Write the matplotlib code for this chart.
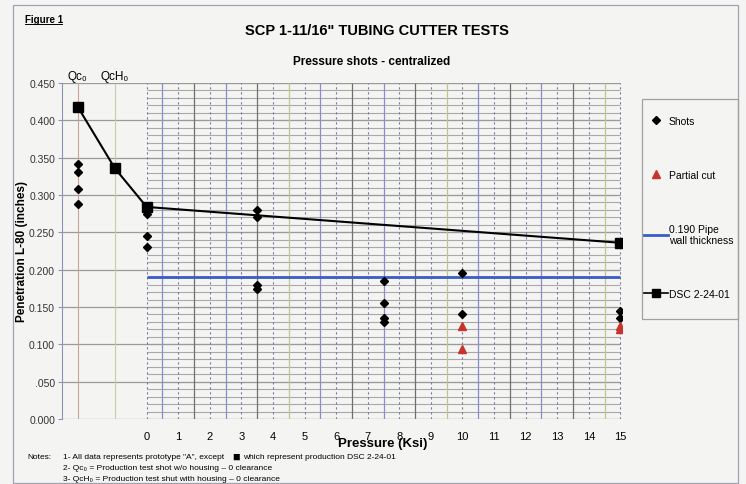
import numpy as np
import matplotlib.pyplot as plt
from matplotlib.lines import Line2D
from matplotlib.patches import Rectangle

plt.rcParams['font.family'] = ['Liberation Sans', 'DejaVu Sans']

# ---- data ----
pressure_ticks = list(range(16))
y_ticks = [0.0, 0.05, 0.10, 0.15, 0.20, 0.25, 0.30, 0.35, 0.40, 0.45]
y_tick_labels = ['0.000', '.050', '0.100', '0.150', '0.200', '0.250',
                 '0.300', '0.350', '0.400', '0.450']

# production test shots (no pressure)
qc0_shots = [0.341, 0.331, 0.308, 0.288]

# pressure shots
shot_pressure = [0, 0, 0, 0, 3.5, 3.5, 3.5, 3.5, 7.5, 7.5, 7.5, 7.5, 10, 10, 15, 15]
shot_values = [0.279, 0.275, 0.245, 0.230, 0.280, 0.270, 0.179, 0.174,
               0.185, 0.155, 0.135, 0.130, 0.195, 0.140, 0.145, 0.135]

# partial cuts
cut_pressure = [10, 10, 15, 15]
cut_values = [0.124, 0.094, 0.124, 0.120]

# DSC 2-24-01 (Qc0, QcH0, 0 ksi, 15 ksi)
dsc_values = [0.418, 0.336, 0.284, 0.236]
wall_thickness = 0.190

# ---- layout ----
QC0_X = -2.18
QCH0_X = -1.01
X_LEFT = -2.68

fig = plt.figure(figsize=(7.46, 4.85), dpi=100, facecolor='#f4f5f3')
ax = fig.add_axes([62 / 746, 1 - 420 / 485, 560 / 746, 336 / 485])
ax.set_facecolor('none')
ax.set_xlim(X_LEFT, 15.05)
ax.set_ylim(0, 0.45)

# grid in the pressure area
minor_y = np.arange(0, 0.4501, 0.01)
ax.hlines(minor_y, 0, 15, colors='#a9a9a9', lw=0.8, zorder=1)
ax.hlines(y_ticks, X_LEFT, 15, colors='#9a9a9a', lw=0.9, zorder=1)
half_cols = ['#8c8cc8', '#707070', '#8c8cc8', '#707070', '#c4c48a']
for i, xv in enumerate(np.arange(0.5, 15, 1)):
    ax.vlines(xv, 0, 0.45, colors=half_cols[i % len(half_cols)], lw=0.9, zorder=1)
for xv in range(16):
    ax.vlines(xv, 0, 0.45, colors='#7a7a9a', lw=0.8, linestyles=(0, (2, 2.5)), zorder=1)
ax.vlines(QC0_X, 0, 0.45, colors='#c9a494', lw=0.8, zorder=1)
ax.vlines(QCH0_X, 0, 0.45, colors='#cbcba8', lw=0.8, zorder=1)

for s in ['top', 'right', 'bottom']:
    ax.spines[s].set_visible(False)
ax.spines['left'].set_color('#9090b8')

# data
ax.plot([QC0_X] * len(qc0_shots), qc0_shots, 'D', color='black', ms=4, zorder=4)
ax.plot(shot_pressure, shot_values, 'D', color='black', ms=4, zorder=4)
ax.plot(cut_pressure, cut_values, '^', color='#c8342c', ms=5.5, zorder=4)
ax.hlines(wall_thickness, 0, 15, colors='#3a5cc4', lw=2, zorder=3)
ax.plot([QC0_X, QCH0_X, 0, 15], dsc_values, '-s', color='black', lw=1.5,
        ms=7, zorder=5)

ax.set_xticks(pressure_ticks)
ax.set_xticklabels([str(p) for p in pressure_ticks], fontsize=8)
ax.tick_params(axis='x', length=0, pad=9)
ax.set_yticks(y_ticks)
ax.set_yticklabels(y_tick_labels, fontsize=7.5, color='#333333')
ax.tick_params(axis='y', length=3, pad=2, color='#9090b8')
fig.text(22 / 746, 1 - 252 / 485, 'Penetration L-80 (inches)', fontsize=8.5,
         fontweight='bold', rotation=90, ha='center', va='center')

ax.text(QC0_X, 0.452, 'Qc\u2080', ha='center', va='bottom', fontsize=8.5)
ax.text(QCH0_X, 0.452, 'QcH\u2080', ha='center', va='bottom', fontsize=8.5)

# titles
fig.text(25 / 746, 1 - 20 / 485, 'Figure 1', fontsize=7, fontweight='bold',
         va='center')
fig.add_artist(Line2D([25 / 746, 62 / 746], [1 - 25 / 485, 1 - 25 / 485],
                      color='black', lw=0.7))
fig.text(377 / 746, 1 - 31 / 485, 'SCP 1-11/16" TUBING CUTTER TESTS',
         fontsize=10.5, fontweight='bold', ha='center', va='center')
fig.text(372 / 746, 1 - 62 / 485, 'Pressure shots - centralized',
         fontsize=8.5, fontweight='bold', ha='center', va='center')
fig.text(383 / 746, 1 - 444 / 485, 'Pressure (Ksi)', fontsize=9.5,
         fontweight='bold', ha='center', va='center')

# notes
fig.text(27 / 746, 1 - 458 / 485, 'Notes:', fontsize=6, va='center')
fig.text(63 / 746, 1 - 458 / 485,
         '1- All data represents prototype "A", except', fontsize=6, va='center')
fig.text(232 / 746, 1 - 458 / 485, '\u25a0', fontsize=9, va='center')
fig.text(243 / 746, 1 - 458 / 485,
         'which represent production DSC 2-24-01', fontsize=6, va='center')
fig.text(63 / 746, 1 - 469 / 485,
         '2- Qc\u2080 = Production test shot w/o housing \u2013 0 clearance',
         fontsize=6, va='center')
fig.text(63 / 746, 1 - 480 / 485,
         '3- QcH\u2080 = Production test shut with housing \u2013 0 clearance',
         fontsize=6, va='center')

# outer frame and legend box
fig.add_artist(Rectangle((13 / 746, 1 - 484 / 485), 725 / 746, 478 / 485,
                         transform=fig.transFigure, fill=False,
                         edgecolor='#a0a0b0', lw=0.9))
fig.add_artist(Rectangle((642 / 746, 1 - 320 / 485), 96 / 746, 220 / 485,
                         transform=fig.transFigure, fill=False,
                         edgecolor='#a0a0a0', lw=0.9))
handles = [
    Line2D([], [], ls='none', marker='D', color='black', ms=4),
    Line2D([], [], ls='none', marker='^', color='#c8342c', ms=5.5),
    Line2D([], [], color='#3a5cc4', lw=2),
    Line2D([], [], color='black', lw=1.2, marker='s', ms=6),
]
labels = ['Shots', 'Partial cut', '0.190 Pipe\nwall thickness', 'DSC 2-24-01']
fig.legend(handles, labels, loc='upper left',
           bbox_to_anchor=(644 / 746, 1 - 117 / 485), frameon=False,
           fontsize=7.5, labelspacing=4.2, handlelength=2.3, handletextpad=0.1,
           borderaxespad=0, borderpad=0)

fig.savefig('out.png', dpi=100, facecolor=fig.get_facecolor())
